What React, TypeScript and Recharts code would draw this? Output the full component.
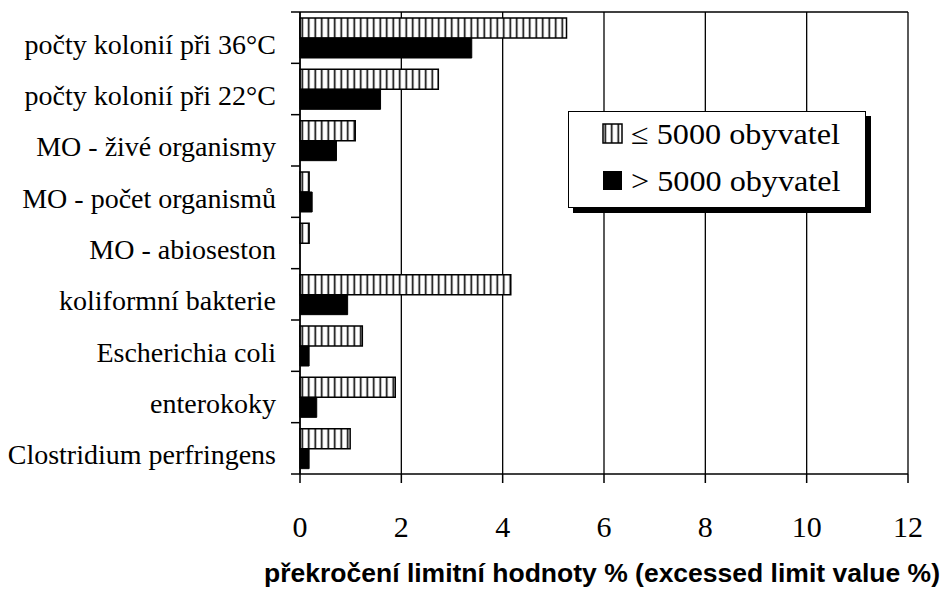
import { BarChart, Bar, XAxis, YAxis, CartesianGrid, Label } from "recharts"

const categories = [
  "počty kolonií při 36°C",
  "počty kolonií při 22°C",
  "MO - živé organismy",
  "MO - počet organismů",
  "MO - abioseston",
  "koliformní bakterie",
  "Escherichia coli",
  "enterokoky",
  "Clostridium perfringens",
]
const smallTowns = [5.26, 2.73, 1.09, 0.18, 0.18, 4.16, 1.23, 1.88, 0.99]
const largeTowns = [3.39, 1.59, 0.72, 0.24, 0, 0.94, 0.18, 0.33, 0.18]
const xTicks = [0, 2, 4, 6, 8, 10, 12]

const data = categories.map((name, i) => ({ name, small: smallTowns[i], large: largeTowns[i] }))

const W = 943
const H = 591
const TOP = 12
const BOTTOM = 117
const BAND = (H - TOP - BOTTOM) / categories.length
const serif = "'Liberation Serif', 'Times New Roman', serif"
const sans = "'Liberation Sans', Arial, sans-serif"

function CategoryTick(props: any) {
  const { x, y, payload, index } = props
  return (
    <g>
      <text x={x - 24} y={y} dy={16} textAnchor="end" fontFamily={serif} fontSize={28} fill="#000">
        {payload.value}
      </text>
      <line x1={x - 9} x2={x} y1={y - BAND / 2} y2={y - BAND / 2} stroke="#000" strokeWidth={1.5} />
      {index === categories.length - 1 && (
        <line x1={x - 9} x2={x} y1={y + BAND / 2} y2={y + BAND / 2} stroke="#000" strokeWidth={1.5} />
      )}
    </g>
  )
}

function AxisTitle(props: any) {
  const { viewBox } = props
  return (
    <text
      x={viewBox.x + viewBox.width / 2 - 2}
      y={viewBox.y + viewBox.height - 9}
      textAnchor="middle"
      fontFamily={sans}
      fontSize={26.5}
      fontWeight={700}
      fill="#000"
    >
      překročení limitní hodnoty % (excessed limit value %)
    </text>
  )
}

function HatchDefs({ id }: { id: string }) {
  return (
    <defs>
      <pattern id={id} patternUnits="userSpaceOnUse" width={6.5} height={10}>
        <rect width={6.5} height={10} fill="#fff" />
        <line x1={3.25} x2={3.25} y1={0} y2={10} stroke="#000" strokeWidth={1.6} />
      </pattern>
    </defs>
  )
}

const legendText = {
  display: "inline-block",
  transform: "scaleX(1.11)",
  transformOrigin: "left center",
  whiteSpace: "nowrap" as const,
}

export default function App() {
  return (
    <div style={{ position: "absolute", left: 0, top: 0, width: W, height: H, background: "#fff" }}>
      <BarChart
        width={W}
        height={H}
        data={data}
        layout="vertical"
        margin={{ top: TOP, right: 35, bottom: 0, left: 0 }}
        barGap={0}
        barSize={20}
      >
        <HatchDefs id="hatch" />
        <CartesianGrid
          stroke="#000"
          strokeWidth={1.3}
          horizontalCoordinatesGenerator={({ offset }: any) => [offset.top]}
        />
        <XAxis
          type="number"
          domain={[0, 12]}
          ticks={xTicks}
          height={BOTTOM}
          tickSize={9}
          tickMargin={33}
          axisLine={{ stroke: "#000", strokeWidth: 1.5 }}
          tickLine={{ stroke: "#000", strokeWidth: 1.5 }}
          tick={{ fontFamily: serif, fontSize: 30, fill: "#000" }}
        >
          <Label content={<AxisTitle />} />
        </XAxis>
        <YAxis
          type="category"
          dataKey="name"
          width={300}
          tickSize={0}
          tickMargin={0}
          tickLine={false}
          axisLine={{ stroke: "#000", strokeWidth: 1.5 }}
          tick={<CategoryTick />}
          interval={0}
        />
        <Bar dataKey="small" fill="url(#hatch)" stroke="#000" strokeWidth={1.5} isAnimationActive={false} />
        <Bar dataKey="large" fill="#000" stroke="#000" strokeWidth={1} isAnimationActive={false} />
      </BarChart>
      <div
        style={{
          position: "absolute",
          left: 568,
          top: 111,
          width: 296,
          height: 95,
          border: "1.5px solid #000",
          background: "#fff",
          boxShadow: "5px 5px 0 #000",
          fontFamily: serif,
          fontSize: 29,
          color: "#000",
        }}
      >
        <div style={{ position: "absolute", left: 33, top: 2, display: "flex", alignItems: "center", height: 40 }}>
          <svg width={22} height={22} style={{ marginRight: 7 }}>
            <HatchDefs id="hatchLegend" />
            <rect x={1} y={1} width={19} height={19} fill="url(#hatchLegend)" stroke="#000" strokeWidth={1.5} />
          </svg>
          <span style={legendText}>≤ 5000 obyvatel</span>
        </div>
        <div style={{ position: "absolute", left: 33, top: 49, display: "flex", alignItems: "center", height: 40 }}>
          <svg width={22} height={22} style={{ marginRight: 7 }}>
            <rect x={1} y={1} width={19} height={19} fill="#000" />
          </svg>
          <span style={legendText}>&gt; 5000 obyvatel</span>
        </div>
      </div>
    </div>
  )
}
